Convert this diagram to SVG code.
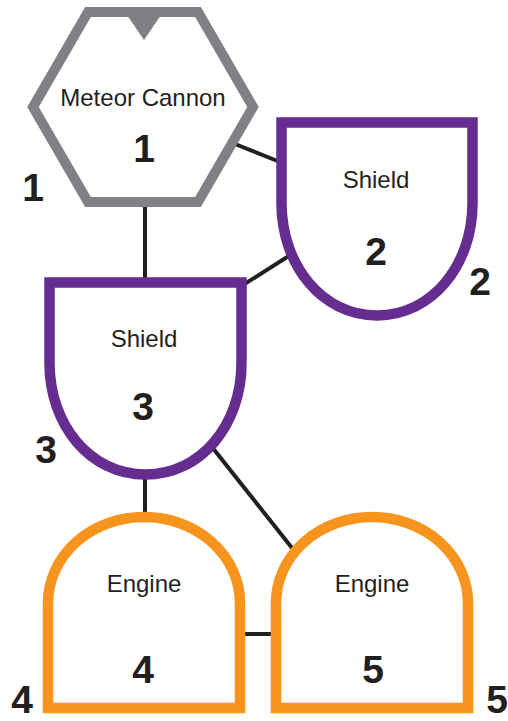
<svg xmlns="http://www.w3.org/2000/svg" width="508" height="721" viewBox="0 0 508 721">
<style>
.bg{fill:#ffffff}
.hex{fill:#ffffff;stroke:#808184;stroke-width:10}
.notch{fill:#808184}
.shield{fill:#ffffff;stroke:#662d91;stroke-width:10.5}
.engine{fill:#ffffff;stroke:#f7941d;stroke-width:10.5}
.edge{stroke:#231f20;stroke-width:4;fill:none}
.lbl{font-family:"Liberation Sans",Arial,sans-serif;font-size:24px;fill:#231f20;text-anchor:middle}
.num{font-family:"Liberation Sans",Arial,sans-serif;font-size:39px;font-weight:bold;fill:#231f20;text-anchor:middle}
</style>
<rect class="bg" x="0" y="0" width="508" height="721"/>
<g id="connectors">
<line class="edge" x1="230" y1="142" x2="280" y2="162"/>
<line class="edge" x1="145" y1="200" x2="145" y2="282"/>
<line class="edge" x1="243" y1="285" x2="295" y2="252"/>
<line class="edge" x1="145" y1="470" x2="145" y2="516"/>
<line class="edge" x1="208" y1="442" x2="296" y2="553"/>
<line class="edge" x1="240" y1="634" x2="276" y2="634"/>
</g>
<g id="node1">
<polygon class="hex" points="33,107 88,12 198,12 253,107 198,202 88,202"/>
<polygon class="notch" points="127,15 161,15 144,40"/>
<text class="lbl" x="143" y="106">Meteor Cannon</text>
<text class="num" x="144" y="162">1</text>
<text class="num" x="33" y="201">1</text>
</g>
<g id="node2">
<path class="shield" d="M281.5,122.5 H472.5 V203 C472.5,265 432,315.5 377,315.5 C322,315.5 281.5,265 281.5,203 Z"/>
<text class="lbl" x="376" y="188">Shield</text>
<text class="num" x="376" y="265">2</text>
<text class="num" x="480" y="295">2</text>
</g>
<g id="node3">
<path class="shield" d="M49.5,282.5 H241.5 V363 C241.5,425 201,474.5 145.5,474.5 C90,474.5 49.5,425 49.5,363 Z"/>
<text class="lbl" x="144" y="347">Shield</text>
<text class="num" x="143" y="420">3</text>
<text class="num" x="46" y="463">3</text>
</g>
<g id="node4">
<path class="engine" d="M48,708 V603 A96,86 0 0 1 240,603 V708 Z"/>
<text class="lbl" x="144" y="592">Engine</text>
<text class="num" x="143" y="683">4</text>
<text class="num" x="22" y="713">4</text>
</g>
<g id="node5">
<path class="engine" d="M276,708 V603 A96,86 0 0 1 468,603 V708 Z"/>
<text class="lbl" x="372" y="592">Engine</text>
<text class="num" x="373" y="683">5</text>
<text class="num" x="497" y="713">5</text>
</g>
</svg>
